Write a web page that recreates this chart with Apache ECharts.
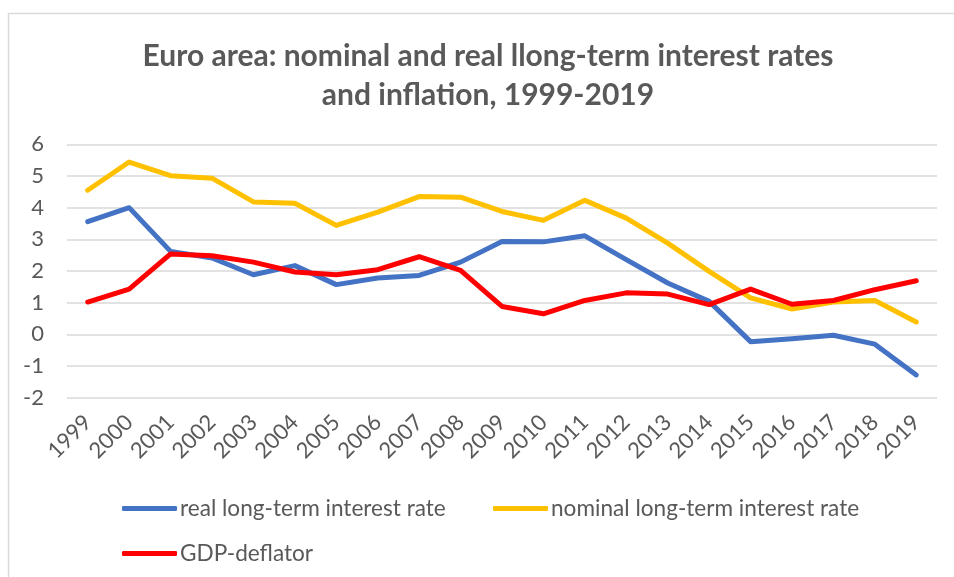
<!DOCTYPE html>
<html><head><meta charset="utf-8">
<script src="https://cdn.jsdelivr.net/npm/echarts@6/dist/echarts.min.js"></script>
<style>html,body{margin:0;padding:0;background:#fff}#c{width:954px;height:577px}</style>
</head><body><div id="c"></div>
<script>
const years = ['1999','2000','2001','2002','2003','2004','2005','2006','2007','2008','2009','2010','2011','2012','2013','2014','2015','2016','2017','2018','2019'];
const realRate = [3.56,4.00,2.62,2.41,1.88,2.17,1.57,1.78,1.86,2.28,2.93,2.92,3.11,2.36,1.62,1.04,-0.23,-0.14,-0.03,-0.31,-1.28];
const nominalRate = [4.55,5.44,5.01,4.93,4.18,4.14,3.44,3.86,4.35,4.33,3.88,3.60,4.23,3.67,2.88,1.99,1.15,0.80,1.02,1.07,0.39];
const gdpDeflator = [1.02,1.43,2.54,2.48,2.28,1.97,1.88,2.04,2.45,2.02,0.88,0.65,1.07,1.31,1.27,0.94,1.43,0.95,1.07,1.41,1.69];
const names = ['real long-term interest rate','nominal long-term interest rate','GDP-deflator'];
const colors = ['#4472C4','#FFC000','#FF0000'];

const chart = echarts.init(document.getElementById('c'), null, {renderer:'canvas'});
const font = 'Lato, "Open Sans", sans-serif';
function legendAt(i, left, top){
  return {data:[names[i]], left:left, top:top, padding:0, icon:'roundRect', itemWidth:55, itemHeight:5,
    itemGap:0, textStyle:{fontFamily:font, fontSize:22.6, color:'#595959', padding:[0,0,0,-2]}};
}
chart.setOption({
  animation:false,
  color: colors,
  graphic:[{type:'rect', shape:{x:8.5,y:13.5,width:1000,height:1000}, style:{fill:'none', stroke:'#D9D9D9', lineWidth:1.5}, silent:true}],
  title:{text:'Euro area: nominal and real llong-term interest rates\nand inflation, 1999-2019', left:488, top:37, padding:0, textAlign:'center',
    textStyle:{fontFamily:font, fontWeight:'bold', fontSize:30, color:'#595959', lineHeight:39}},
  legend:[legendAt(0,122,497), legendAt(1,493,497), legendAt(2,122,542)],
  grid:{left:67, right:17, top:144.3, bottom:179.3, containLabel:false},
  xAxis:{type:'category', data:years, boundaryGap:true,
    axisLine:{show:false}, axisTick:{show:false},
    axisLabel:{rotate:45, margin:21, fontFamily:font, fontSize:22, color:'#595959', interval:0}},
  yAxis:{type:'value', min:-2, max:6, interval:1,
    axisLine:{show:false}, axisTick:{show:false},
    axisLabel:{margin:23, fontFamily:font, fontSize:22, color:'#595959'},
    splitLine:{lineStyle:{color:'#D9D9D9', width:1.5}}},
  series:[
    {name:names[0], type:'line', data:realRate, showSymbol:false, symbol:'none', lineStyle:{width:5, color:colors[0], cap:'round', join:'round'}},
    {name:names[1], type:'line', data:nominalRate, showSymbol:false, symbol:'none', lineStyle:{width:5, color:colors[1], cap:'round', join:'round'}},
    {name:names[2], type:'line', data:gdpDeflator, showSymbol:false, symbol:'none', lineStyle:{width:5, color:colors[2], cap:'round', join:'round'}}
  ]
});
</script></body></html>
